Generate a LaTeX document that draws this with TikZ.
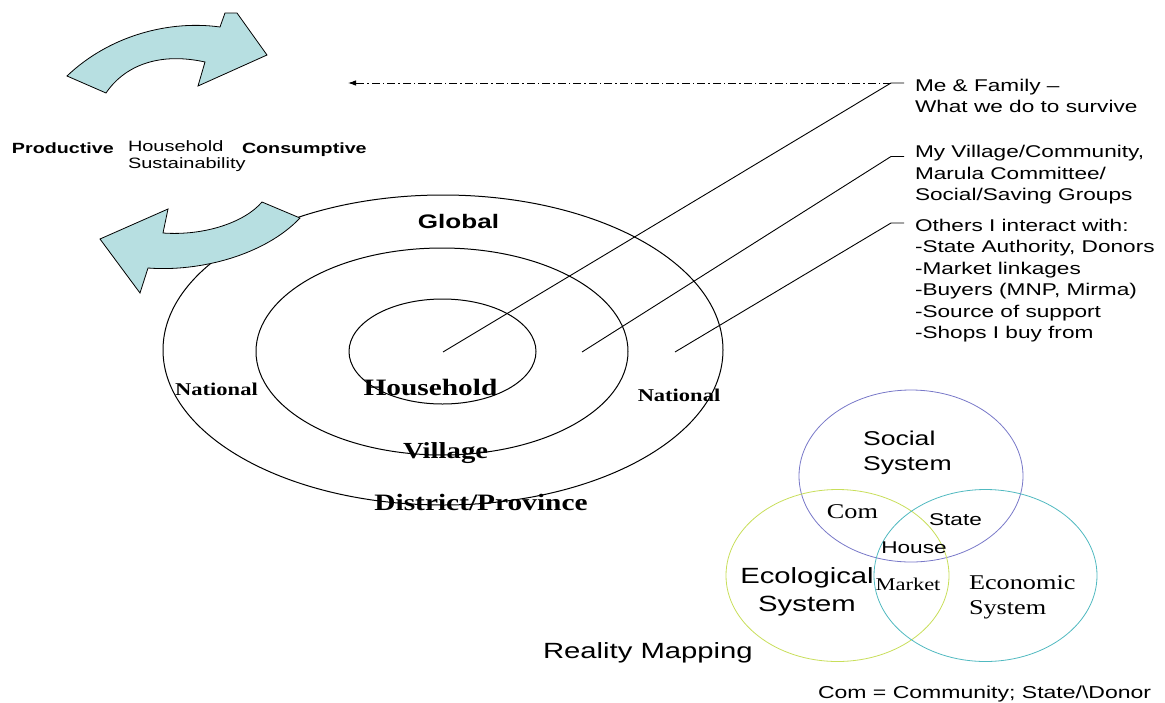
\documentclass[tikz,border=0pt]{standalone}
\usepackage{fontspec}
\usetikzlibrary{arrows.meta}
\newfontfamily\arialw{Liberation Sans}[FakeStretch=1.33]
\newfontfamily\timesw{Liberation Serif}[FakeStretch=1.25]
\definecolor{turncyan}{RGB}{183,223,225}
\definecolor{socialc}{RGB}{120,120,200}
\definecolor{ecoc}{RGB}{200,222,90}
\definecolor{econc}{RGB}{80,185,192}
\tikzset{
  ring/.style={line width=1pt},
  lead/.style={line width=0.9pt},
  turn/.style={fill=turncyan, draw=black, line width=0.8pt},
  venn/.style={line width=0.8pt},
  txt/.style={inner sep=0pt, outer sep=0pt},
}
\begin{document}
\begin{tikzpicture}[x=1pt,y=-1pt]
  \useasboundingbox (0,0) rectangle (1165,702);
  % 同心円（全体）
  \draw[ring] (443,350) ellipse [x radius=280pt, y radius=155pt];
  % 同心円（村）
  \draw[ring] (442,351.5) ellipse [x radius=186pt, y radius=103.5pt];
  % 同心円（世帯）
  \draw[ring] (442.5,351.5) ellipse [x radius=93.5pt, y radius=52.5pt];
  % 円の中の文字
  \node[txt, anchor=base, font=\arialw\bfseries\fontsize{19.6}{22}\selectfont] (global) at (458.5,228.3) {Global};
  \node[txt, anchor=base, font=\timesw\bfseries\fontsize{23.5}{26}\selectfont] (hhold) at (430.5,395) {Household};
  \node[txt, anchor=base, font=\timesw\bfseries\fontsize{23}{26}\selectfont] (village) at (445.6,458.3) {Village};
  \node[txt, anchor=base, font=\timesw\bfseries\fontsize{23.5}{26}\selectfont] (district) at (481,510) {District/Province};
  \node[txt, anchor=base, font=\timesw\bfseries\fontsize{18}{20}\selectfont] (natl) at (216.5,395) {National};
  \node[txt, anchor=base, font=\timesw\bfseries\fontsize{18}{20}\selectfont] (natr) at (679,401.7) {National};
  % 右側の説明
  \node[txt, anchor=north west, align=left, font=\arialw\fontsize{17}{21.5}\selectfont] (fam) at (915,78.8) {Me \& Family –\\What we do to survive};
  \node[txt, anchor=north west, align=left, font=\arialw\fontsize{17}{21.5}\selectfont] (com) at (915,145.5) {My Village/Community,\\Marula Committee/\\Social/Saving Groups};
  \node[txt, anchor=north west, align=left, font=\arialw\fontsize{17}{21.5}\selectfont] (others) at (915,218.8) {Others I interact with:\\-State Authority, Donors\\-Market linkages\\-Buyers (MNP, Mirma)\\-Source of support\\-Shops I buy from};
  % 引き出し線
  \coordinate (hhc) at (443,352);
  \coordinate (vilc) at (582,352);
  \coordinate (natc) at (675,352);
  \coordinate (k1) at (891,83);
  \coordinate (k2) at (891,156.5);
  \coordinate (k3) at (891,223);
  \draw[lead] (hhc) -- (k1) -- ++(13,0);
  \draw[lead] (vilc) -- (k2) -- ++(13,0);
  \draw[lead] (natc) -- (k3) -- ++(13,0);
  % 一点鎖線の矢印
  \coordinate (tip) at (348,83);
  \draw[lead, dash pattern=on 8pt off 3pt on 1.5pt off 3pt, -{Latex[length=8pt,width=5.5pt]}] (k1) -- (tip);
  % 循環の矢印（上）
  \draw[turn] (67,76) .. controls (110,35) and (170,20) .. (220,27) -- (225,13) -- (237,13) -- (267,55)
    -- (198,86) -- (205,62) .. controls (160,52) and (125,65) .. (106,93) -- cycle;
  % 循環の矢印（下）
  \draw[turn] (262,202) .. controls (245,222) and (205,236) .. (163,233) -- (168,209) -- (100,239)
    -- (140,293) -- (148,268) .. controls (200,272) and (265,255) .. (300,218) -- cycle;
  % 左上の文字
  \node[txt, anchor=base west, font=\arialw\bfseries\fontsize{14.8}{17}\selectfont] (prod) at (12,153.5) {Productive};
  \node[txt, anchor=north west, align=left, font=\arialw\fontsize{15}{17}\selectfont] (sust) at (128,140.8) {Household\\Sustainability};
  \node[txt, anchor=base west, font=\arialw\bfseries\fontsize{14.8}{17}\selectfont] (cons) at (242,153.5) {Consumptive};
  % ベン図
  \draw[venn, socialc] (911,476) ellipse [x radius=112pt, y radius=86pt];
  \draw[venn, ecoc] (837.5,575.5) ellipse [x radius=111.5pt, y radius=86pt];
  \draw[venn, econc] (985.5,575.5) ellipse [x radius=111.5pt, y radius=86pt];
  % ベン図の文字
  \node[txt, anchor=north west, align=left, font=\arialw\fontsize{20}{25}\selectfont] (social) at (863,431) {Social\\System};
  \node[txt, anchor=base, font=\timesw\fontsize{21}{24}\selectfont] (comm) at (852.5,518) {Com};
  \node[txt, anchor=base, font=\arialw\fontsize{17}{20}\selectfont] (state) at (955.5,525) {State};
  \node[txt, anchor=base, font=\arialw\fontsize{17}{20}\selectfont] (house) at (914,553.8) {House};
  \node[txt, anchor=base, font=\timesw\fontsize{18}{20}\selectfont] (market) at (908,590.3) {Market};
  \node[txt, anchor=north, align=center, font=\arialw\fontsize{22}{28}\selectfont] (ecol) at (807,567.1) {Ecological\\System};
  \node[txt, anchor=north west, align=left, font=\timesw\fontsize{21}{25}\selectfont] (econ) at (969,575.7) {Economic\\System};
  % 下の文字
  \node[txt, anchor=base west, font=\arialw\fontsize{22}{26}\selectfont] (reality) at (543,658) {Reality Mapping};
  \node[txt, anchor=base west, font=\arialw\fontsize{17.3}{20}\selectfont] (note) at (818,698) {Com = Community;  State/\textbackslash Donor};
\end{tikzpicture}
\end{document}
